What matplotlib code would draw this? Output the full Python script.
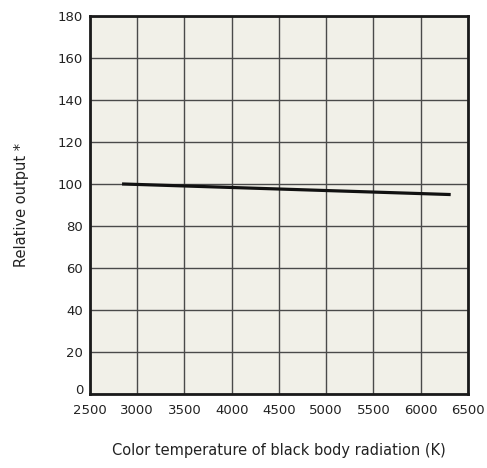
import matplotlib
matplotlib.use("Agg")
import matplotlib.pyplot as plt
import matplotlib.transforms as mtransforms

temps = [2856, 6300]
output = [100, 95]
xticks = [2500, 3000, 3500, 4000, 4500, 5000, 5500, 6000, 6500]
yticks = [0, 20, 40, 60, 80, 100, 120, 140, 160, 180]

plt.rcParams['font.family'] = ['DejaVu Sans']
fig = plt.figure(figsize=(4.87, 4.68), dpi=100)
ax = fig.add_axes([90/487, 1-394/468, (468-90)/487, (394-16)/468])
ax.set_facecolor('#f1f0e8')
ax.plot(temps, output, color='#111111', lw=2.3, zorder=3)
ax.set_xlim(2500, 6500)
ax.set_ylim(0, 180)
ax.set_xticks(xticks)
ax.set_yticks(yticks)
ax.grid(True, color='#4a4a4a', lw=1.0, zorder=1)
ax.set_axisbelow(True)
for s in ax.spines.values():
    s.set_linewidth(2.0)
    s.set_color('#1a1a1a')
ax.tick_params(axis='both', length=0, labelsize=9.5, colors='#222222')
ax.tick_params(axis='x', pad=7)
ax.tick_params(axis='y', pad=5)
fig.canvas.draw()
lbl0 = ax.get_yticklabels()[0]
lbl0.set_transform(lbl0.get_transform() + mtransforms.ScaledTranslation(0, 5/100, fig.dpi_scale_trans))
ax.set_xlabel('Color temperature of black body radiation (K)', fontsize=10.5, color='#222222', labelpad=19)
ax.set_ylabel('Relative output *', fontsize=10.5, color='#222222', labelpad=21)
fig.savefig('out.png', dpi=100, facecolor='white')
